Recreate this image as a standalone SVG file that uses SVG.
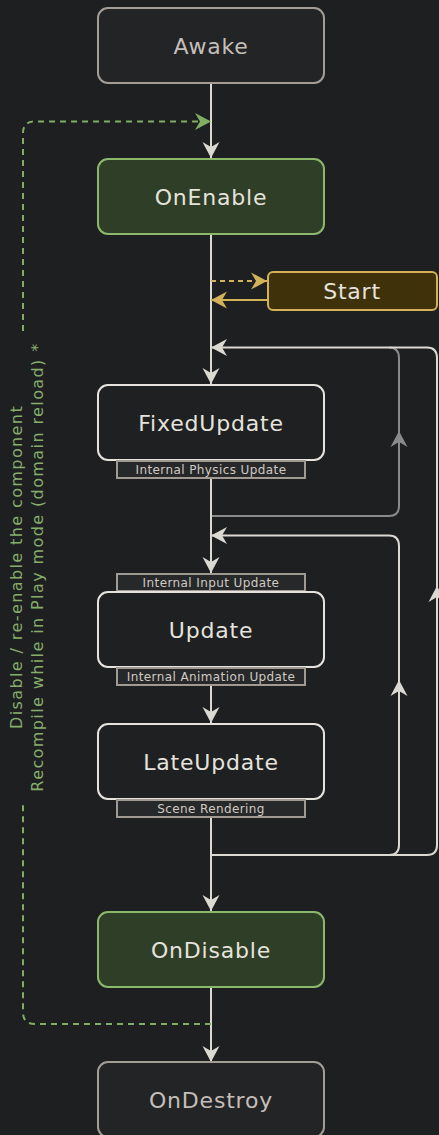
<svg xmlns="http://www.w3.org/2000/svg" width="439" height="1135" viewBox="0 0 439 1135">
<style>
.t{font-family:"DejaVu Sans","Verdana",sans-serif;text-anchor:middle}
.big{font-size:22px;letter-spacing:0.8px;fill:#e6e3dd}
.dim{fill:#c4bfb8}
.sm{font-size:12px;letter-spacing:0.4px;fill:#cfcac2}
.box{fill:#1f2022;stroke:#e6e3de;stroke-width:2}
.grey{fill:#232426;stroke:#a39d95;stroke-width:2}
.green{fill:#2e3e27;stroke:#8cb86c;stroke-width:2}
.lab{fill:#27282a;stroke:#a09a92;stroke-width:2}
.c{fill:none;stroke:#dcd9d3;stroke-width:2}
.cg{fill:none;stroke:#8a8a8a;stroke-width:2}
.gd{fill:none;stroke:#7fae62;stroke-width:2;stroke-dasharray:6 5}
.vt{font-family:"DejaVu Sans","Verdana",sans-serif;font-size:16px;letter-spacing:1.4px;fill:#86ad6b;text-anchor:middle}
</style>
<defs>
<path id="ah" d="M0,0 L-16,-8.5 L-11,0 L-16,8.5 Z"/>
<marker id="mw" markerUnits="userSpaceOnUse" viewBox="-17 -10 18 20" refX="0" refY="0" markerWidth="18" markerHeight="20" orient="auto"><use href="#ah" fill="#dcd9d3"/></marker>
<marker id="mg" markerUnits="userSpaceOnUse" viewBox="-17 -10 18 20" refX="0" refY="0" markerWidth="18" markerHeight="20" orient="auto"><use href="#ah" fill="#7fae62"/></marker>
<marker id="my" markerUnits="userSpaceOnUse" viewBox="-17 -10 18 20" refX="0" refY="0" markerWidth="18" markerHeight="20" orient="auto"><use href="#ah" fill="#d4b25a"/></marker>
</defs>
<rect width="439" height="1135" fill="#1e1f21"/>

<g id="connectors">
<path class="c" d="M211,83 V158" marker-end="url(#mw)"/>
<path class="c" d="M211,234 V384" marker-end="url(#mw)"/>
<path d="M211,281 H267" fill="none" stroke="#d4b25a" stroke-width="2" stroke-dasharray="5 4" marker-end="url(#my)"/>
<path d="M267,300 H211" fill="none" stroke="#d4b25a" stroke-width="2" marker-end="url(#my)"/>
<path class="cg" d="M211,516 H389 Q399,516 399,506 V358 Q399,347.5 389,347.5"/>
<use href="#ah" fill="#8a8a8a" transform="translate(399,431) rotate(-90)"/>
<path class="c" d="M211,855 H427 Q437,855 437,845 V358 Q437,347.5 427,347.5 H211" marker-end="url(#mw)"/>
<use href="#ah" fill="#dcd9d3" transform="translate(437,586) rotate(-90)"/>
<path class="c" d="M211,855 H389 Q399,855 399,845 V546 Q399,535.5 389,535.5 H211" marker-end="url(#mw)"/>
<use href="#ah" fill="#dcd9d3" transform="translate(399,680) rotate(-90)"/>
<path class="c" d="M211,479 V573" marker-end="url(#mw)"/>
<path class="c" d="M211,686 V723" marker-end="url(#mw)"/>
<path class="c" d="M211,818 V911" marker-end="url(#mw)"/>
<path class="c" d="M211,987 V1062" marker-end="url(#mw)"/>
<path class="gd" d="M211,1024 H35 Q23,1024 23,1012 V805"/>
<path class="gd" d="M23,331 V133 Q23,121.5 35,121.5 H211" marker-end="url(#mg)"/>
</g>

<g id="recompile-label">
<text class="vt" transform="translate(22,567) rotate(-90)">Disable / re-enable the component</text>
<text class="vt" transform="translate(43,567) rotate(-90)">Recompile while in Play mode (domain reload) *</text>
</g>

<g id="awake">
<rect class="grey" x="98" y="8" width="226" height="75" rx="10"/>
<text class="t big dim" x="211" y="54">Awake</text>
</g>
<g id="onenable">
<rect class="green" x="98" y="159" width="226" height="75" rx="10"/>
<text class="t big" x="211" y="205">OnEnable</text>
</g>
<g id="start">
<rect x="268" y="272" width="169" height="38" rx="5" fill="#3f320b" stroke="#d4b25a" stroke-width="2"/>
<text class="t big" x="352" y="299">Start</text>
</g>
<g id="fixedupdate">
<rect class="box" x="98" y="385" width="226" height="75" rx="10"/>
<text class="t big" x="211" y="431">FixedUpdate</text>
<rect class="lab" x="117" y="461" width="188" height="17"/>
<text class="t sm" x="211" y="474">Internal Physics Update</text>
</g>
<g id="update">
<rect class="lab" x="117" y="574" width="188" height="17"/>
<text class="t sm" x="211" y="587">Internal Input Update</text>
<rect class="box" x="98" y="592" width="226" height="75" rx="10"/>
<text class="t big" x="211" y="638">Update</text>
<rect class="lab" x="117" y="668" width="188" height="17"/>
<text class="t sm" x="211" y="681">Internal Animation Update</text>
</g>
<g id="lateupdate">
<rect class="box" x="98" y="724" width="226" height="75" rx="10"/>
<text class="t big" x="211" y="770">LateUpdate</text>
<rect class="lab" x="117" y="800" width="188" height="17"/>
<text class="t sm" x="211" y="813">Scene Rendering</text>
</g>
<g id="ondisable">
<rect class="green" x="98" y="912" width="226" height="75" rx="10"/>
<text class="t big" x="211" y="958">OnDisable</text>
</g>
<g id="ondestroy">
<rect class="grey" x="98" y="1062" width="226" height="75" rx="10"/>
<text class="t big dim" x="211" y="1108">OnDestroy</text>
</g>
</svg>
